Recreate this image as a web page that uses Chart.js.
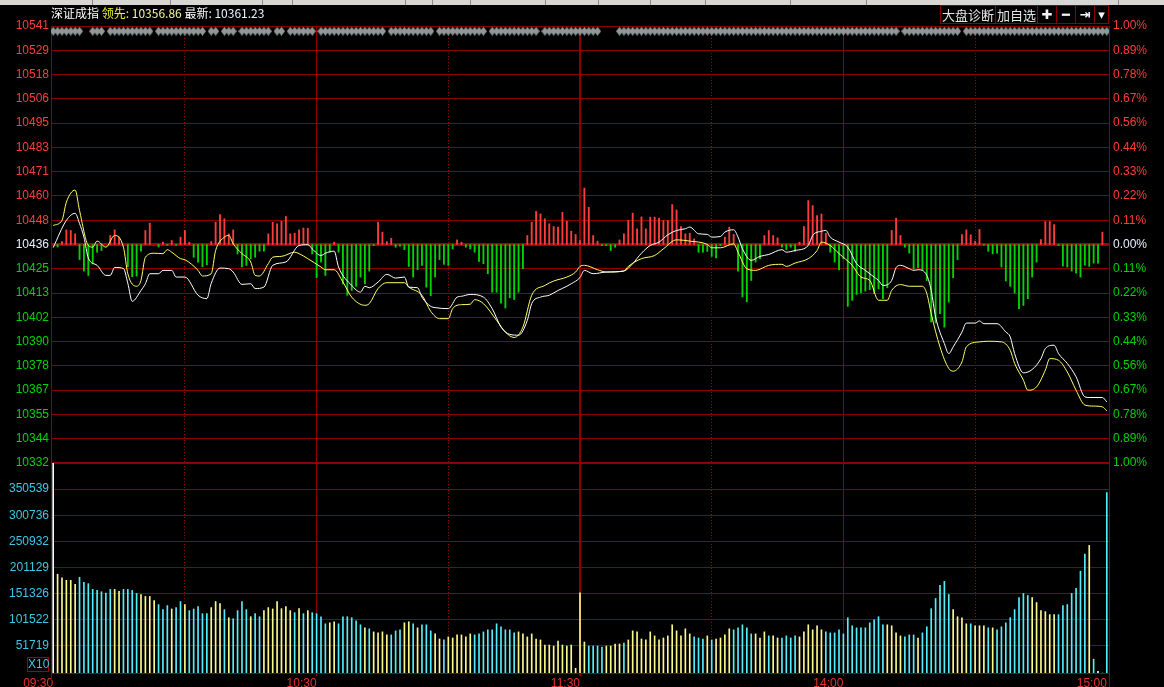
<!DOCTYPE html>
<html>
<head>
<meta charset="utf-8">
<title>深证成指 分时</title>
<script src="https://cdn.jsdelivr.net/npm/chart.js@4.4.1/dist/chart.umd.min.js"></script>
<style>
  html, body { margin: 0; padding: 0; background: #000; }
  #wrap { position: relative; width: 1164px; height: 687px; overflow: hidden; background: #000;
          font-family: "Liberation Sans", Arial, "Noto Sans CJK SC", sans-serif; }
  canvas { position: absolute; left: 0; top: 0; }
  #toolbar { position: absolute; left: 0; top: 0; width: 1164px; height: 5px; background: #d8d6d2; }
  #toolbar i { position: absolute; top: 0; width: 1px; height: 5px; background: #8a8a8a; }
  #title { position: absolute; left: 51px; top: 6px; font-size: 12px; line-height: 14px; color: #fff; white-space: nowrap;
           font-family: "Noto Sans CJK SC", "Liberation Sans", sans-serif; }
  #title .lead { color: #f0f040; }
  #title .leadv { color: #f4f4a0; }
  #title .lastv { color: #e8f2ff; }
  #tools { position: absolute; left: 940px; top: 5px; height: 19px; display: flex; border: 1px solid #8c0000; border-right: none; box-sizing: border-box; }
  #tools span { display: block; height: 17px; line-height: 17px; border-right: 1px solid #8c0000; color: #e6e6e6; text-align: center;
                font-size: 13px; font-family: "Noto Sans CJK SC", sans-serif; }
  #tools span.ico { font-family: "DejaVu Sans", sans-serif; font-weight: bold; font-size: 13px; color: #f4f4f4; }
  #x10 { position: absolute; left: 27px; top: 657px; width: 22px; height: 15px; border: 1px solid #a00000; box-sizing: border-box;
         color: #3cc8e6; font-size: 12px; line-height: 13px; text-align: center; }
  .edge { position: absolute; width: 1px; background: #8c0000; }
</style>
</head>
<body>
<div id="wrap">
  <div id="toolbar"></div>
  <canvas id="priceChart" width="1164" height="687"></canvas>
  <canvas id="volumeChart" width="1164" height="687"></canvas>
  <div id="title"></div>
  <div id="tools"></div>
  <div id="x10">X10</div>
  <div class="edge" style="left:51px; top:673px; height:10px;"></div>
  <div class="edge" style="left:1109px; top:673px; height:14px;"></div>
</div>
<script>
'use strict';

// minute index: 0 = 09:30, 120 = 11:30 / 13:00, 240 = 15:00
const prevClose = 10436.47;
const gridStep = 11.61;
const latestLead = '10356.86';
const latestIndex = '10361.23';

const priceLabels = ['10541', '10529', '10518', '10506', '10495', '10483', '10471', '10460', '10448', '10436',
                     '10425', '10413', '10402', '10390', '10378', '10367', '10355', '10344', '10332'];
const pctLabels = ['1.00%', '0.89%', '0.78%', '0.67%', '0.56%', '0.44%', '0.33%', '0.22%', '0.11%', '0.00%',
                   '0.11%', '0.22%', '0.33%', '0.44%', '0.56%', '0.67%', '0.78%', '0.89%', '1.00%'];
const volumeTicks = [51719, 101522, 151326, 201129, 250932, 300736, 350539];
const volumeMax = 400342;
const timeTicks = [0, 60, 120, 180, 240];
const timeLabels = ['09:30', '10:30', '11:30', '14:00', '15:00'];
const halfHourTicks = [30, 90, 150, 210];
const toolButtons = ['大盘诊断', '加自选', '✚', '━', '⇥', '▾'];

// white line: index price
const indexPoints = [
  [0, 10435.0], [3, 10448.0], [5, 10451.4], [6, 10446.5], [7, 10440.0], [8, 10430.0], [10, 10426.5], [12, 10421.7],
  [13, 10421.7], [14, 10425.5], [16, 10425.0], [17, 10417.9], [18, 10409.3], [20, 10414.5], [21, 10417.7], [22, 10422.5],
  [24, 10422.5], [25, 10424.1], [27, 10424.1], [28, 10420.9], [30, 10420.9], [33, 10412.2], [35, 10410.6], [36, 10417.9],
  [38, 10425.2], [40, 10424.9], [41, 10423.3], [43, 10417.4], [45, 10417.7], [46, 10415.4], [48, 10416.1], [50, 10426.5],
  [53, 10428.1], [56, 10436.0], [58, 10436.4], [59, 10434.4], [61, 10431.2], [62, 10432.3], [64, 10433.3], [65, 10425.7],
  [68, 10416.9], [70, 10413.7], [71, 10416.5], [72, 10415.8], [74, 10418.5], [76, 10422.2], [78, 10420.4], [80, 10420.9],
  [81, 10416.1], [83, 10415.8], [84, 10411.3], [86, 10406.9], [87, 10406.3], [90, 10405.8], [92, 10411.3], [93, 10411.7],
  [95, 10412.6], [98, 10411.3], [100, 10405.8], [102, 10397.0], [104, 10393.5], [106, 10393.1], [108, 10400.2], [109, 10408.2],
  [111, 10411.3], [113, 10412.2], [115, 10414.5], [117, 10416.5], [118, 10417.7], [120, 10420.7], [121, 10424.1], [123, 10422.5],
  [126, 10423.3], [130, 10423.8], [132, 10427.3], [134, 10432.3], [136, 10436.0], [138, 10437.6], [140, 10441.1], [142, 10443.2],
  [144, 10444.0], [145, 10444.8], [147, 10441.6], [149, 10441.3], [150, 10440.0], [152, 10440.3], [153, 10442.4], [155, 10443.5],
  [156, 10440.0], [157, 10434.4], [159, 10428.9], [161, 10430.8], [163, 10431.7], [166, 10434.0], [167, 10432.8], [169, 10433.6],
  [172, 10436.0], [173, 10440.8], [175, 10442.8], [176, 10443.2], [177, 10440.0], [179, 10437.6], [181, 10435.2], [183, 10427.3],
  [185, 10424.1], [187, 10420.9], [188, 10419.3], [189, 10416.9], [191, 10419.3], [192, 10425.4], [193, 10426.5], [195, 10424.9],
  [196, 10424.1], [197, 10424.4], [199, 10421.7], [200, 10414.5], [201, 10401.8], [203, 10389.1], [204, 10384.3], [205, 10387.5],
  [207, 10394.6], [208, 10398.9], [210, 10398.9], [211, 10399.9], [212, 10398.6], [215, 10398.6], [217, 10394.6], [218, 10392.3],
  [219, 10384.3], [221, 10375.1], [223, 10376.7], [225, 10381.9], [226, 10386.7], [228, 10388.3], [229, 10384.3], [231, 10379.6],
  [233, 10373.2], [235, 10363.6], [236, 10363.3], [239, 10363.3], [240, 10361.2]
];

// yellow line: leading index
const leadPoints = [
  [0, 10445.6], [2, 10448.0], [3, 10456.7], [5, 10462.5], [6, 10452.7], [8, 10436.0], [9, 10435.2], [10, 10438.1],
  [12, 10435.2], [14, 10440.8], [16, 10435.2], [17, 10422.5], [19, 10416.5], [20, 10419.3], [21, 10430.4], [23, 10432.3],
  [25, 10432.1], [26, 10434.0], [27, 10432.8], [29, 10429.7], [30, 10429.2], [33, 10424.1], [34, 10421.4], [36, 10422.5],
  [37, 10433.6], [39, 10440.0], [40, 10440.8], [41, 10436.8], [43, 10432.1], [45, 10428.1], [46, 10421.7], [47, 10421.4],
  [49, 10427.3], [50, 10430.4], [52, 10430.8], [55, 10432.8], [56, 10432.1], [58, 10429.7], [61, 10425.7], [62, 10424.4],
  [64, 10424.4], [66, 10418.5], [68, 10411.3], [71, 10407.4], [72, 10408.2], [74, 10415.4], [76, 10418.2], [80, 10418.2],
  [81, 10416.1], [84, 10412.2], [86, 10404.5], [88, 10401.0], [90, 10401.0], [91, 10405.8], [93, 10407.7], [95, 10407.9],
  [96, 10410.1], [98, 10408.2], [101, 10400.2], [103, 10394.6], [105, 10392.0], [107, 10397.0], [109, 10412.2], [112, 10416.9],
  [114, 10419.0], [117, 10420.9], [119, 10423.3], [120, 10426.0], [121, 10426.5], [124, 10424.4], [126, 10423.3], [130, 10423.8],
  [131, 10426.0], [134, 10429.7], [137, 10431.2], [139, 10434.4], [142, 10438.7], [145, 10438.1], [149, 10436.5], [150, 10434.9],
  [152, 10434.9], [155, 10436.8], [156, 10432.8], [158, 10424.9], [160, 10424.1], [163, 10426.5], [166, 10427.0], [167, 10426.0],
  [169, 10427.6], [172, 10429.7], [174, 10433.6], [175, 10437.6], [177, 10436.0], [179, 10432.1], [182, 10426.5], [184, 10420.9],
  [186, 10419.3], [188, 10409.8], [190, 10409.8], [191, 10414.5], [193, 10417.3], [195, 10416.5], [198, 10416.5], [199, 10413.0],
  [200, 10403.4], [202, 10387.5], [204, 10377.2], [205, 10375.9], [207, 10380.3], [208, 10387.5], [211, 10389.9], [213, 10390.2],
  [216, 10389.9], [218, 10385.9], [219, 10379.6], [221, 10371.6], [222, 10366.8], [224, 10368.4], [226, 10376.4], [227, 10381.9],
  [229, 10381.1], [231, 10375.5], [233, 10366.8], [235, 10359.7], [237, 10359.2], [239, 10358.8], [240, 10356.9]
];

// red / green strength bars, points above / below the prior close, one per minute
const flow = [
  0, -1.2, 1.4, 7.0, 6.7, 5.1, -7.2, -12.7, -14.8, -9.3,
  -3.7, -2.9, 0, 4.3, 7.0, 3.5, 0, -10.7, -15.4, -15.1,
  -3.2, 6.7, 10.2, 0, -1.2, 1.1, -0.4, 1.9, -0.4, 3.5,
  6.7, 1.1, -6.1, -8.5, -10.7, -9.7, 1.4, 10.7, 14.3, 12.3,
  5.1, 7.0, -4.5, -10.7, -10.0, -6.8, -6.1, -3.2, -3.2, 5.1,
  10.7, 9.9, 11.1, 13.4, 5.1, 5.4, 7.0, 7.9, 7.8, -4.5,
  -15.9, -8.4, -14.8, -3.7, 1.1, -3.7, -18.8, -24.3, -22.0, -20.0,
  -15.6, -18.8, -12.7, -0.5, 10.7, 5.9, 1.4, 3.0, -1.3, -0.8,
  -2.5, -10.5, -15.6, -12.1, -10.0, -20.4, -24.5, -15.6, -7.2, -9.5,
  -10.0, -2.1, 2.2, 1.1, -1.3, -2.1, -3.7, -8.1, -9.2, -14.0,
  -22.8, -22.8, -28.0, -30.4, -25.5, -26.3, -22.8, -11.6, 4.3, 10.7,
  15.8, 14.6, 12.3, 9.9, 8.6, 8.3, 15.4, 11.1, 6.4, 4.8,
  1.9, 27.0, 17.8, 4.3, 1.6, -0.5, -0.5, -2.9, -1.3, 2.2,
  5.1, 11.5, 15.0, 7.5, 13.2, 7.5, 13.1, 13.1, 12.6, 11.5,
  11.5, 19.1, 16.5, 8.6, 5.1, 5.4, 2.7, -3.7, -3.7, -3.3,
  -5.7, -6.4, -0.5, 3.5, 8.3, 4.8, -12.7, -25.1, -27.4, -17.2,
  -8.4, -6.8, 4.3, 6.7, 4.3, 3.2, -1.3, -2.4, -1.3, -3.3,
  1.1, 8.6, 21.0, 18.6, 13.8, 14.6, 5.4, -3.7, -8.4, -12.1,
  -6.8, -29.6, -26.7, -23.9, -23.2, -22.3, -21.6, -23.5, -21.2, -25.9,
  -20.7, 6.7, 12.6, 4.3, -1.3, -4.1, -11.8, -11.1, -12.4, -17.2,
  -37.1, -37.5, -33.1, -39.5, -27.5, -15.9, -7.2, 4.8, 7.0, 4.6,
  1.6, 7.2, -0.3, -3.2, -4.5, -4.1, -10.8, -17.5, -20.0, -23.2,
  -30.7, -29.1, -25.9, -15.6, -8.4, 2.4, 11.0, 11.0, 9.5, -0.5,
  -10.3, -10.8, -12.7, -13.7, -15.6, -9.9, -10.5, -8.9, -8.9, 5.9,
  0
];

// volume (X10), one bar per minute
const volumes = [
  405000, 188300, 181200, 176700, 176700, 169000, 182500, 172900, 170300, 159400,
  157400, 154900, 152300, 159400, 159400, 155500, 159400, 159400, 157400, 151700,
  149700, 145900, 145900, 138200, 130400, 120800, 128500, 122100, 124700, 136200,
  130400, 118900, 122100, 126600, 113100, 113100, 124700, 136200, 132400, 120800,
  105400, 103500, 118900, 136200, 120800, 107300, 113100, 107300, 118900, 124700,
  122100, 136200, 122700, 126600, 118900, 115000, 122700, 113100, 118900, 115000,
  113100, 107300, 93800, 95700, 97700, 93800, 107300, 107300, 105400, 99600,
  91900, 86100, 84200, 78400, 76500, 78400, 72600, 72600, 80300, 82300,
  95700, 97700, 93800, 86100, 91900, 91900, 80300, 74500, 64900, 63000,
  68800, 66800, 72600, 72600, 68800, 74500, 72600, 74500, 78400, 82300,
  82300, 93800, 88000, 82300, 82300, 76500, 78400, 74500, 68800, 74500,
  64900, 63000, 53300, 53300, 51400, 61000, 53300, 51400, 53300, 9000,
  152900, 59100, 51400, 51400, 51400, 49500, 51400, 51400, 55300, 55300,
  57200, 63000, 80300, 78400, 64900, 63000, 78400, 70700, 63000, 66800,
  70700, 91900, 80300, 70700, 84200, 74500, 68800, 66800, 64900, 70700,
  63000, 64900, 66800, 72600, 84200, 82300, 86100, 91900, 86100, 74500,
  74500, 66800, 78400, 70700, 70700, 66800, 66800, 70700, 66800, 70700,
  68800, 78400, 91900, 82300, 90000, 82300, 78400, 76500, 76500, 82300,
  74500, 105400, 90000, 86100, 86100, 86100, 95700, 101500, 107300, 91900,
  91900, 90000, 76500, 70700, 68800, 72600, 72600, 66800, 76500, 88000,
  122700, 142000, 167100, 174800, 149700, 120800, 107300, 105400, 93800, 93800,
  90000, 90000, 90000, 86100, 86100, 82300, 88000, 95700, 105400, 120800,
  143900, 151700, 147800, 143900, 134300, 118900, 117000, 111200, 111200, 111200,
  128500, 130400, 151700, 161300, 194100, 226600, 243300, 26300, 3200, 0,
  344000
];

// w = first/flat, y = up, c = down
const volumeColors = (
  'w yyyyy cccccccc yy cccc yyyy ccc y cc y ccccc yyy c y cccc y cc yyyyyyy c y c y cccc yy ' +
  'cccccc y c yyyy ccc yy c y ccc yy c yyyyyy cccccccccc yyyyyyyyyyyyyy ' +
  'yy cccc yyyy c yyyyyyyyyyyyyyy ccc y c yyyy ccccc yyy c yy cccc yyyyyy cccccccccccccc ' +
  'yyyy ccc y ccccccc yyyy c yyy c y cccccccc yyyyyy ccccccc y c w c c'
).replace(/\s/g, '').split('');

// minutes without a marker in the top strip
const markerGaps = [7, 8, 12, 23, 35, 38, 42, 50, 53, 60, 76, 87, 99, 111, 125, 126, 127, 128, 193, 207];

const GRID = '#8c0000';
const BASE_LINE = '#a40000';
const DOT_LINE = '#a00000';
const UP = '#ff3c3c';
const DOWN = '#00d400';
const FLAT = '#e8f0ff';
const MARKER = '#8f9999';
const TICK_FONT = { family: '"Liberation Sans", Arial, sans-serif', size: 12 };
const VOL_COLORS = { w: '#ffffff', y: '#fafa8c', c: '#54eefa' };

Chart.defaults.animation = false;
Chart.defaults.events = [];
Chart.defaults.plugins.legend.display = false;
Chart.defaults.plugins.tooltip.enabled = false;

function levelColor(i) {
  if (i < 9) return UP;
  if (i > 9) return DOWN;
  return FLAT;
}

function priceTickValue(i) {
  return prevClose + (9 - i) * gridStep;
}

// small upright diamond used as point style for the marker strip
function diamondImage() {
  const c = document.createElement('canvas');
  c.width = 7;
  c.height = 9;
  const g = c.getContext('2d');
  g.fillStyle = MARKER;
  g.beginPath();
  g.moveTo(3.5, 0);
  g.lineTo(7, 4.5);
  g.lineTo(3.5, 9);
  g.lineTo(0, 4.5);
  g.closePath();
  g.fill();
  return c;
}

function minuteScale(extra) {
  return Object.assign({
    type: 'linear',
    min: -0.5,
    max: 240.5,
    offset: false
  }, extra);
}

// dotted half-hour lines, shared by both panels
function halfHourScale() {
  return minuteScale({
    position: 'top',
    afterBuildTicks: s => { s.ticks = halfHourTicks.map(v => ({ value: v })); },
    afterFit: s => { s.height = 0; },
    ticks: { display: false },
    grid: { offset: false, color: DOT_LINE, lineWidth: 1, drawTicks: false },
    border: { display: false, dash: [1, 2] }
  });
}

function buildPriceChart() {
  const ctx = document.getElementById('priceChart').getContext('2d');
  const top = prevClose + 9 * gridStep;
  const bottom = prevClose - 9 * gridStep;
  const hourTicks = timeTicks.filter(v => v > 0 && v < 240);
  const markerMinutes = [];
  for (let m = 0; m <= 240; m++) {
    if (!markerGaps.includes(m)) markerMinutes.push(m);
  }

  return new Chart(ctx, {
    type: 'line',
    data: {
      datasets: [{
        label: '最新',
        data: indexPoints.map(p => ({ x: p[0], y: p[1] })),
        borderColor: '#ffffff',
        borderWidth: 1,
        pointRadius: 0,
        cubicInterpolationMode: 'monotone',
        order: 1
      }, {
        label: '领先',
        data: leadPoints.map(p => ({ x: p[0], y: p[1] })),
        borderColor: '#ffff64',
        borderWidth: 1,
        pointRadius: 0,
        cubicInterpolationMode: 'monotone',
        order: 2
      }, {
        type: 'bar',
        label: '强弱',
        data: flow.map((v, m) => ({ x: m, y: v ? [prevClose, prevClose + v] : null })),
        backgroundColor: flow.map(v => v >= 0 ? UP : DOWN),
        barThickness: 1.2,
        order: 3
      }, {
        label: 'markers',
        data: markerMinutes.map(m => ({ x: m, y: top - 2.5 })),
        showLine: false,
        pointStyle: diamondImage(),
        pointRadius: 4,
        order: 0
      }]
    },
    options: {
      responsive: false,
      devicePixelRatio: 1,
      layout: { padding: { top: 26, bottom: 224, left: 0, right: 0 } },
      scales: {
        x: minuteScale({
          position: 'bottom',
          afterBuildTicks: s => { s.ticks = hourTicks.map(v => ({ value: v })); },
          afterFit: s => { s.height = 0; },
          ticks: { display: false },
          grid: {
            offset: false,
            color: GRID,
            lineWidth: c => (c.tick && c.tick.value === 120 ? 2 : 1),
            drawTicks: false
          },
          border: { display: false }
        }),
        x2: halfHourScale(),
        y: {
          position: 'left',
          min: bottom,
          max: top,
          afterBuildTicks: s => { s.ticks = priceLabels.map((_, i) => ({ value: priceTickValue(i) })); },
          afterFit: s => { s.width = 51; },
          ticks: {
            autoSkip: false,
            padding: 2,
            font: TICK_FONT,
            color: c => levelColor(c.index),
            callback: (v, i) => priceLabels[i]
          },
          grid: {
            color: c => (c.index === 9 ? BASE_LINE : GRID),
            lineWidth: c => (c.index === 9 ? 3 : (c.index === 18 ? 2 : 1)),
            drawTicks: false
          },
          border: { color: GRID }
        },
        yPct: {
          position: 'right',
          min: bottom,
          max: top,
          afterBuildTicks: s => { s.ticks = pctLabels.map((_, i) => ({ value: priceTickValue(i) })); },
          afterFit: s => { s.width = 55; },
          ticks: {
            autoSkip: false,
            padding: 4,
            font: TICK_FONT,
            color: c => levelColor(c.index),
            callback: (v, i) => pctLabels[i]
          },
          grid: { drawOnChartArea: false, drawTicks: false },
          border: { color: GRID }
        }
      }
    }
  });
}

function buildVolumeChart() {
  const ctx = document.getElementById('volumeChart').getContext('2d');

  return new Chart(ctx, {
    type: 'bar',
    data: {
      datasets: [{
        label: '成交量',
        data: volumes.map((v, m) => ({ x: m, y: v })),
        backgroundColor: volumeColors.map(c => VOL_COLORS[c]),
        barThickness: 1
      }]
    },
    options: {
      responsive: false,
      devicePixelRatio: 1,
      layout: { padding: { top: 463, bottom: 0, left: 0, right: 0 } },
      scales: {
        x: minuteScale({
          position: 'bottom',
          afterBuildTicks: s => { s.ticks = timeTicks.map(v => ({ value: v })); },
          afterFit: s => { s.height = 14; },
          ticks: {
            autoSkip: false,
            maxRotation: 0,
            align: 'end',
            padding: 0,
            font: TICK_FONT,
            color: '#e83232',
            callback: (v, i) => timeLabels[i]
          },
          grid: {
            offset: false,
            color: GRID,
            lineWidth: c => {
              const v = c.tick ? c.tick.value : -1;
              if (v === 0 || v === 240) return 0;
              return v === 120 ? 2 : 1;
            },
            tickLength: 3,
            tickColor: GRID
          },
          border: { color: GRID }
        }),
        x2: halfHourScale(),
        y: {
          position: 'left',
          min: 0,
          max: volumeMax,
          afterBuildTicks: s => { s.ticks = volumeTicks.map(v => ({ value: v })); },
          afterFit: s => { s.width = 51; },
          ticks: {
            autoSkip: false,
            padding: 2,
            font: TICK_FONT,
            color: '#3cc8e6',
            callback: v => String(v)
          },
          grid: { color: GRID, drawTicks: false },
          border: { color: GRID }
        },
        yRight: {
          position: 'right',
          min: 0,
          max: volumeMax,
          afterBuildTicks: s => { s.ticks = []; },
          afterFit: s => { s.width = 55; },
          ticks: { display: false },
          grid: { drawOnChartArea: false, drawTicks: false },
          border: { color: GRID }
        }
      }
    }
  });
}

function buildHeader() {
  document.getElementById('title').innerHTML =
    '深证成指 <span class="lead">领先:</span> <span class="leadv">' + latestLead + '</span> ' +
    '最新: <span class="lastv">' + latestIndex + '</span>';

  const widths = [55, 42, 19, 19, 19, 14];
  const tools = document.getElementById('tools');
  toolButtons.forEach((text, i) => {
    const span = document.createElement('span');
    span.textContent = text;
    span.style.width = (widths[i] - 1) + 'px';
    if (i > 1) span.className = 'ico';
    tools.appendChild(span);
  });

  // separators of the cropped toolbar above the chart
  const bar = document.getElementById('toolbar');
  [92, 170, 262, 292, 405, 432, 470, 545, 598, 650, 705, 790, 866, 1118].forEach(x => {
    const i = document.createElement('i');
    i.style.left = x + 'px';
    bar.appendChild(i);
  });
}

buildHeader();
window.priceChart = buildPriceChart();
window.volumeChart = buildVolumeChart();
</script>
</body>
</html>
